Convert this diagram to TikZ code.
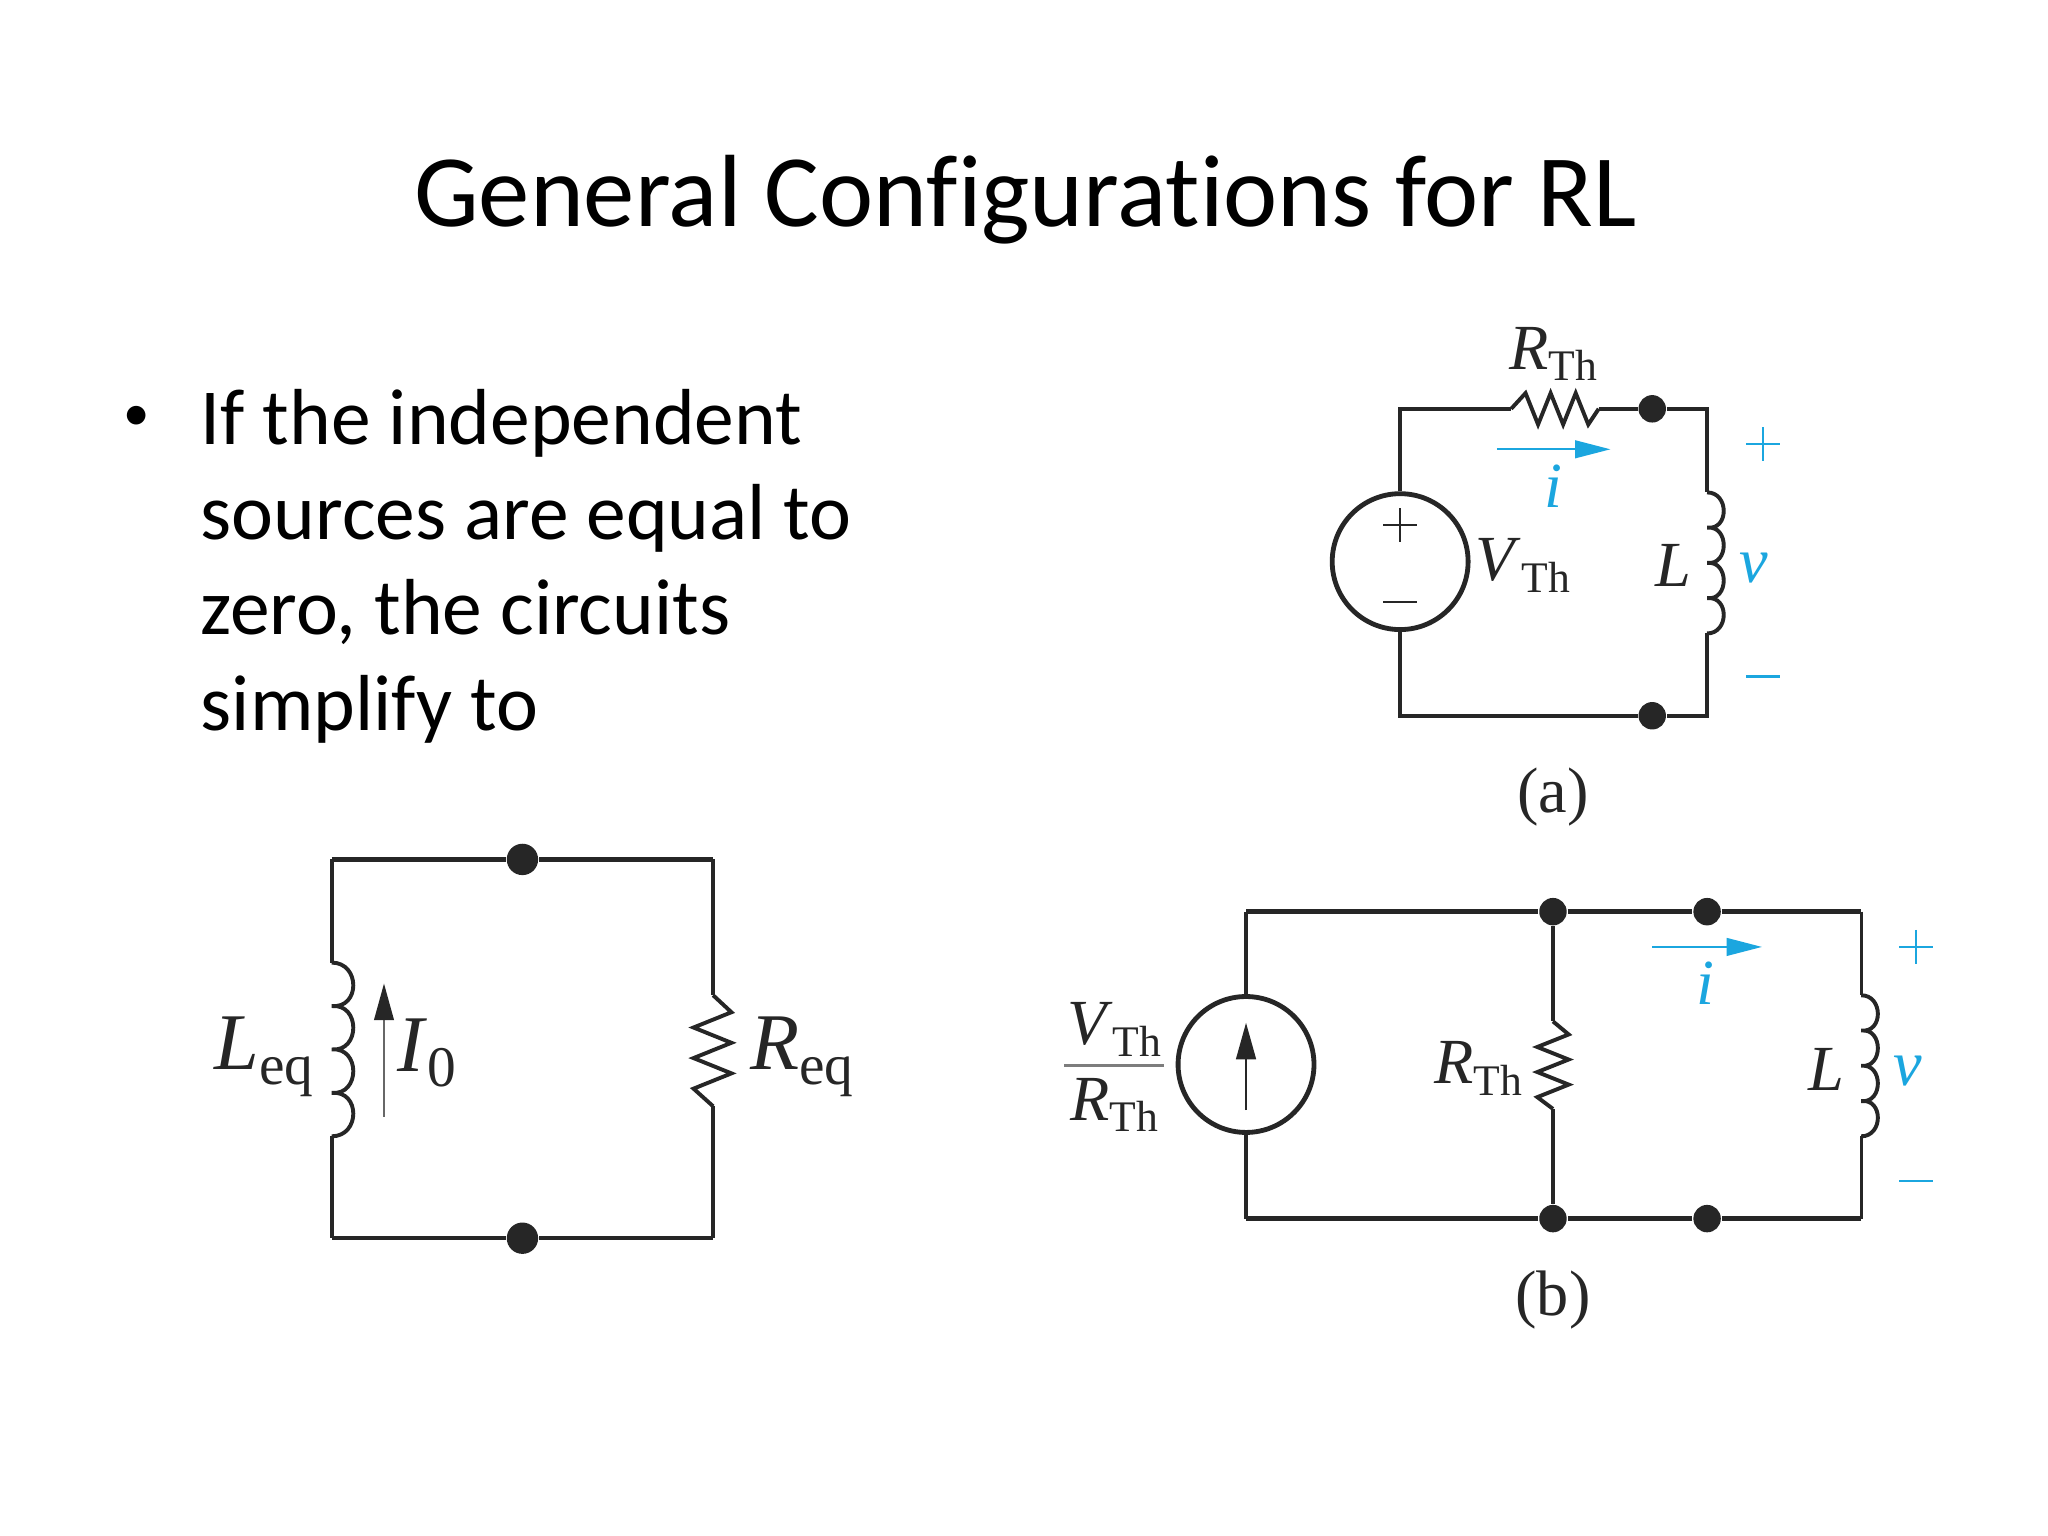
\documentclass[tikz,border=0pt]{standalone}
\usepackage{fontspec}
\setmainfont[Ligatures=NoCommon]{Carlito}
\newfontfamily\labfont{Liberation Serif}
\usetikzlibrary{arrows.meta}
\definecolor{ink}{HTML}{262626}
\definecolor{cblue}{HTML}{1BA6DF}
\newcommand{\lblA}[2]{{\labfont\fontsize{14}{16}\selectfont\textit{#1}\raisebox{-2.6pt}{\fontsize{9.5}{11}\selectfont #2}}}
\newcommand{\lblB}[2]{{\labfont\fontsize{17.5}{20}\selectfont\textit{#1}\raisebox{-3.2pt}{\fontsize{12.5}{14}\selectfont #2}}}
\newcommand{\varA}[1]{{\labfont\fontsize{14}{16}\selectfont\textit{#1}}}
\newcommand{\capA}[1]{{\labfont\fontsize{14}{16}\selectfont #1}}
\tikzset{
  wire/.style={draw=ink,line width=0.85pt,line join=miter},
  thickwire/.style={draw=ink,line width=1pt},
  thinwire/.style={draw=ink,line width=0.7pt},
  dot/.style={circle,fill=ink,draw=none,minimum size=0.21cm,inner sep=0pt},
  bigdot/.style={circle,fill=ink,draw=none,minimum size=0.24cm,inner sep=0pt},
  source/.style={circle,draw=ink,line width=1.05pt,minimum size=1.04cm,inner sep=0pt},
  lab/.style={inner sep=0pt,text=ink},
  bluelab/.style={inner sep=0pt,text=cblue},
  bluearrow/.style={draw=cblue,line width=0.45pt,-{Triangle[length=2.7mm,width=1.35mm,fill=cblue]}},
  blackarrow/.style={draw=ink,line width=0.6pt,-{Triangle[length=2.8mm,width=1.5mm,fill=ink,color=ink]}},
  sign/.style={draw=ink,line width=0.5pt},
  bluesign/.style={draw=cblue,line width=0.5pt},
  title/.style={inner sep=0pt,font=\fontsize{22.35}{26}\selectfont},
  bodyline/.style={inner sep=0pt,anchor=base west,font=\fontsize{17.3}{20}\selectfont},
}
\begin{document}
\begin{tikzpicture}[x=0.01cm,y=-0.01cm]
\useasboundingbox (0,0) rectangle (1568,1176);
\fill[white] (0,0) rectangle (1568,1176);

\node[title] (ttl) at (785,153) {General Configurations for RL};
\node[inner sep=0pt,font=\fontsize{11.5}{14}\selectfont] (bul) at (105,320) {•};
\node[bodyline] (l1) at (153,340) {If the independent};
\node[bodyline] (l2) at (153,413) {sources are equal to};
\node[bodyline] (l3) at (153,486) {zero, the circuits};
\node[bodyline] (l4) at (153,559) {simplify to};

%% circuit (a)
\node[source] (sa) at (1072,430) {};
\node[dot] (da1) at (1265,313) {};
\node[dot] (da2) at (1265,548) {};
\coordinate (atl) at (1072,313);
\coordinate (atr) at (1307,313);
\coordinate (abl) at (1072,548);
\coordinate (abr) at (1307,548);
\coordinate (rai) at (1157,313);
\coordinate (rao) at (1224,313);
\coordinate (lai) at (1307,377);
\coordinate (lao) at (1307,485);
\draw[wire] (sa.north) -- (atl) -- (rai);
\draw[wire] (rai) -- ++(11,-12) -- ++(9.6,24) -- ++(9.6,-24) -- ++(9.6,24) -- ++(9.6,-24) -- ++(9.6,24) -- (rao);
\draw[wire] (rao) -- (da1) -- (atr) -- (lai);
\draw[wire] (lai) .. controls +(17,0) and +(17,2) .. ++(0,27) .. controls +(17,-2) and +(17,2) .. ++(0,27) .. controls +(17,-2) and +(17,2) .. ++(0,27) .. controls +(17,-2) and +(17,0) .. (lao);
\draw[wire] (lao) -- (abr) -- (da2) -- (abl) -- (sa.south);
\coordinate (sap1) at (1059,402); \coordinate (sap2) at (1085,402);
\coordinate (sap3) at (1072,389); \coordinate (sap4) at (1072,415);
\coordinate (sam1) at (1059,461); \coordinate (sam2) at (1085,461);
\draw[sign] (sap1) -- (sap2);
\draw[sign] (sap3) -- (sap4);
\draw[sign] (sam1) -- (sam2);
\coordinate (iaa) at (1146,344); \coordinate (iab) at (1233,344);
\draw[bluearrow] (iaa) -- (iab);
\node[lab] (laRth) at (1189,271) {\lblA{R}{Th}};
\node[lab] (laVth) at (1166,433) {\lblA{V}{Th}};
\node[lab] (laL) at (1281,433) {\varA{L}};
\node[bluelab] (lav) at (1343,435) {\varA{v}};
\node[bluelab] (lai2) at (1189,372) {\varA{i}};
\coordinate (pa1) at (1337,340); \coordinate (pa2) at (1363,340);
\coordinate (pa3) at (1350,327); \coordinate (pa4) at (1350,353);
\coordinate (ma1) at (1337,518); \coordinate (ma2) at (1363,518);
\draw[bluesign] (pa1) -- (pa2);
\draw[bluesign] (pa3) -- (pa4);
\draw[bluesign] (ma1) -- (ma2);
\node[lab] (capa) at (1189,610) {\capA{(a)}};

%% circuit (b)
\node[source] (sb) at (954,815) {};
\node[dot] (db1) at (1189,698) {};
\node[dot] (db2) at (1307,698) {};
\node[dot] (db3) at (1189,933) {};
\node[dot] (db4) at (1307,933) {};
\coordinate (btl) at (954,698);
\coordinate (btr) at (1425,698);
\coordinate (bbl) at (954,933);
\coordinate (bbr) at (1425,933);
\coordinate (rbi) at (1189,782);
\coordinate (rbo) at (1189,849);
\coordinate (lbi) at (1425,762);
\coordinate (lbo) at (1425,870);
\draw[thinwire] (sb.north) -- (btl);
\draw[thickwire] (btl) -- (db1) -- (db2) -- (btr);
\draw[thinwire] (btr) -- (lbi);
\draw[wire] (lbi) .. controls +(17,0) and +(17,2) .. ++(0,27) .. controls +(17,-2) and +(17,2) .. ++(0,27) .. controls +(17,-2) and +(17,2) .. ++(0,27) .. controls +(17,-2) and +(17,0) .. (lbo);
\draw[thinwire] (lbo) -- (bbr);
\draw[thickwire] (bbr) -- (db4) -- (db3) -- (bbl);
\draw[thinwire] (bbl) -- (sb.south);
\draw[thinwire] (db1) -- (rbi);
\draw[wire] (rbi) -- ++(12,10) -- ++(-24,9.6) -- ++(24,9.6) -- ++(-24,9.6) -- ++(24,9.6) -- ++(-24,9.6) -- (rbo);
\draw[thinwire] (rbo) -- (db3);
\coordinate (iba) at (954,850); \coordinate (ibb) at (954,783);
\draw[blackarrow] (iba) -- (ibb);
\coordinate (ib2a) at (1265,725); \coordinate (ib2b) at (1349,725);
\draw[bluearrow] (ib2a) -- (ib2b);
\node[lab] (lbV) at (853,788) {\lblA{V}{Th}};
\node[lab] (lbR) at (853,846) {\lblA{R}{Th}};
\coordinate (fr1) at (815,816); \coordinate (fr2) at (891,816);
\draw[draw=ink!60,line width=0.7pt] (fr1) -- (fr2);
\node[lab] (lbRth) at (1132,818) {\lblA{R}{Th}};
\node[lab] (lbL) at (1398,819) {\varA{L}};
\node[bluelab] (lbv) at (1461,820) {\varA{v}};
\node[bluelab] (lbi) at (1306,753) {\varA{i}};
\coordinate (pb1) at (1454,725); \coordinate (pb2) at (1480,725);
\coordinate (pb3) at (1467,712); \coordinate (pb4) at (1467,738);
\coordinate (mb1) at (1454,904); \coordinate (mb2) at (1480,904);
\draw[bluesign] (pb1) -- (pb2);
\draw[bluesign] (pb3) -- (pb4);
\draw[bluesign] (mb1) -- (mb2);
\node[lab] (capb) at (1189,995) {\capA{(b)}};

%% equivalent circuit
\node[bigdot] (dc1) at (400,658) {};
\node[bigdot] (dc2) at (400,948) {};
\coordinate (ctl) at (254,658);
\coordinate (ctr) at (546,658);
\coordinate (cbl) at (254,948);
\coordinate (cbr) at (546,948);
\coordinate (lci) at (254,737);
\coordinate (lco) at (254,870);
\coordinate (rci) at (546,762);
\coordinate (rco) at (546,847);
\draw[thickwire] (ctl) -- (dc1) -- (ctr);
\draw[thickwire] (cbl) -- (dc2) -- (cbr);
\draw[wire] (ctl) -- (lci);
\draw[wire] (lci) .. controls +(22,0) and +(22,2) .. ++(0,33.25) .. controls +(22,-2) and +(22,2) .. ++(0,33.25) .. controls +(22,-2) and +(22,2) .. ++(0,33.25) .. controls +(22,-2) and +(22,0) .. (lco);
\draw[wire] (lco) -- (cbl);
\draw[wire] (ctr) -- (rci);
\draw[wire] (rci) -- ++(14,13) -- ++(-29,11.7) -- ++(29,11.7) -- ++(-29,11.7) -- ++(29,11.7) -- ++(-29,11.7) -- (rco);
\draw[wire] (rco) -- (cbr);
\coordinate (ica) at (294,855); \coordinate (icb) at (294,753);
\draw[blackarrow,line width=0.45pt,draw=ink!70] (ica) -- (icb);
\node[lab] (lcL) at (202,809) {\lblB{L}{eq}};
\node[lab] (lcI) at (327,806) {\lblB{I}{0}};
\node[lab] (lcR) at (614,809) {\lblB{R}{eq}};
\end{tikzpicture}
\end{document}
